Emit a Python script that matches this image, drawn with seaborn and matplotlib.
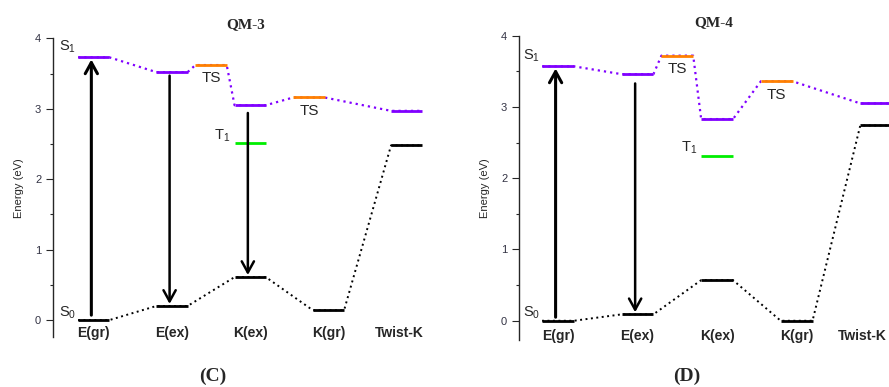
import numpy as np
import pandas as pd
import matplotlib
matplotlib.use("Agg")
import matplotlib.pyplot as plt
import matplotlib.transforms as mtransforms
import seaborn as sns

# reaction coordinate
states = ["E(gr)", "E(ex)", "K(ex)", "K(gr)", "Twist-K"]

# S1 pathway stops (index along the coordinate), TS sit between the states
s1_pos = [0, 1, 1.5, 2, 2.75, 4]
s1_kind = ["S1", "S1", "TS", "S1", "TS", "S1"]

# QM-3 energies (eV)
qm3_s0 = [0.00, 0.20, 0.61, 0.14, 2.48]
qm3_s1 = [3.73, 3.52, 3.62, 3.05, 3.16, 2.97]
qm3_t1 = 2.51
qm3_arrows = [(0, 0.07, 3.73), (1, 3.47, 0.20), (2, 2.94, 0.61)]

# QM-4 energies (eV)
qm4_s0 = [0.00, 0.09, 0.57, 0.00, 2.74]
qm4_s1 = [3.57, 3.46, 3.72, 2.83, 3.36, 3.05]
qm4_t1 = 2.31
qm4_arrows = [(0, 0.05, 3.57), (1, 3.33, 0.09)]

PURPLE = "#8000ff"
ORANGE = "#ff8000"
GREEN = "#00ee00"
HW = 0.2  # half width of an energy level

sns.set_style("ticks")
plt.rcParams["font.family"] = ["Liberation Sans", "DejaVu Sans"]
plt.rcParams["mathtext.default"] = "regular"


def level_path(pos, energy):
    # points along the level ends, so the dotted line joins right end -> next left end
    rows = []
    for x, e in zip(pos, energy):
        rows.append((x - HW, e))
        rows.append((x + HW, e))
    return pd.DataFrame(rows, columns=["x", "energy"])


def draw_panel(ax, s0, s1, t1, arrows, title, twist_shift):
    s0_pos = list(range(len(states)))

    # dotted connectors
    sns.lineplot(data=level_path(s1_pos, s1), x="x", y="energy", sort=False,
                 estimator=None, ax=ax, color=PURPLE, lw=1.6, ls=(0, (1, 1.8)), zorder=1)
    sns.lineplot(data=level_path(s0_pos, s0), x="x", y="energy", sort=False,
                 estimator=None, ax=ax, color="black", lw=1.4, ls=(0, (1, 1.8)), zorder=1)

    # solid levels
    for x, e, k in zip(s1_pos, s1, s1_kind):
        ax.hlines(e, x - HW, x + HW, color=ORANGE if k == "TS" else PURPLE, lw=2, zorder=3)
        if k == "TS":
            ax.text(x, e - 0.19, "TS", ha="center", va="center", fontsize=11)
    ax.hlines(s0, [p - HW for p in s0_pos], [p + HW for p in s0_pos],
              color="black", lw=2, zorder=3)
    ax.hlines(t1, 2 - HW, 2 + HW, color=GREEN, lw=2, zorder=3)

    ax.text(-HW - 0.02, s1[0] + 0.15, "S$_1$", ha="right", va="center", fontsize=10.5)
    ax.text(-HW - 0.02, s0[0] + 0.11, "S$_0$", ha="right", va="center", fontsize=10.5)
    ax.text(2 - HW - 0.05, t1 + 0.11, "T$_1$", ha="right", va="center", fontsize=10.5)

    for i, (idx, e0, e1) in enumerate(arrows):
        lw = 2.2 if i == 0 else 1.8
        ax.annotate("", xy=(idx - 0.03, e1), xytext=(idx - 0.03, e0),
                    arrowprops=dict(arrowstyle="->,head_length=0.4,head_width=0.22",
                                    mutation_scale=20, lw=lw, color="black",
                                    shrinkA=0, shrinkB=1.5), zorder=4)

    ax.set_xticks(range(len(states)), states, fontweight="bold", fontsize=10)
    ax.tick_params(axis="x", length=0, pad=-8)
    # Twist-K label sits a bit left of its level in the original
    lab = ax.get_xticklabels()[-1]
    lab.set_transform(lab.get_transform() + mtransforms.ScaledTranslation(
        twist_shift / 100, 0, ax.figure.dpi_scale_trans))
    ax.set_yticks(range(5))
    ax.set_yticks(np.arange(0.5, 4, 1), minor=True)
    ax.tick_params(axis="y", which="major", length=5, width=0.8, labelsize=8,
                   labelcolor="#333344")
    ax.tick_params(axis="y", which="minor", length=2.5, width=0.8)
    ax.set_ylabel("Energy (eV)", fontsize=8, labelpad=8)
    ax.set_xlabel("")
    for s in ["top", "right", "bottom"]:
        ax.spines[s].set_visible(False)
    ax.spines["left"].set_linewidth(1.0)
    ax.set_title(title, fontsize=11, fontweight="bold", pad=7,
                 family=["Liberation Serif", "DejaVu Serif"])


fig = plt.figure(figsize=(8.89, 3.87), dpi=100)
W, H = 889, 387
ax1 = fig.add_axes([53 / W, (H - 337) / H, 385 / W, (337 - 38.3) / H])
ax2 = fig.add_axes([519 / W, (H - 340) / H, 389 / W, (340 - 35.7) / H])

draw_panel(ax1, qm3_s0, qm3_s1, qm3_t1, qm3_arrows, "QM-3", -7)
ax1.set_xlim(-0.52, 4.4)
ax1.set_ylim(-0.24, 4.0)

draw_panel(ax2, qm4_s0, qm4_s1, qm4_t1, qm4_arrows, "QM-4", -14)
ax2.set_xlim(-0.49, 4.4)
ax2.set_ylim(-0.27, 4.0)

fig.text(213 / W, 1 - 376 / H, "(C)", ha="center", va="center", fontsize=14,
         fontweight="bold", family=["Liberation Serif", "DejaVu Serif"])
fig.text(687 / W, 1 - 376 / H, "(D)", ha="center", va="center", fontsize=14,
         fontweight="bold", family=["Liberation Serif", "DejaVu Serif"])

fig.savefig("out.png", dpi=100)
